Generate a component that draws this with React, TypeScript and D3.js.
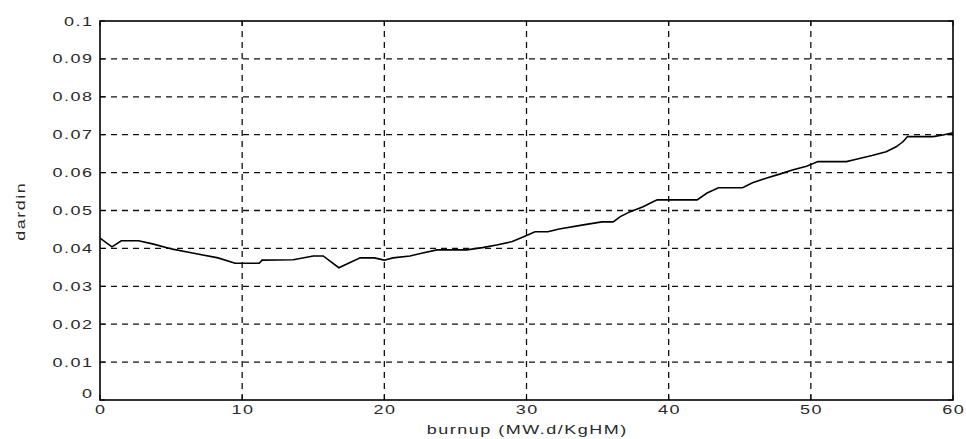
import React, { useEffect, useRef } from "react";
import * as d3 from "d3";

// burnup (MW.d/KgHM)
const burnup = [
  0, 0.84, 1.5, 2.7, 3.7, 5.1, 6.5, 8.3, 9.5, 11.2, 11.4, 13.6, 15.0, 15.7,
  16.8, 18.3, 19.3, 20.0, 20.6, 21.8, 22.7, 23.7, 25.8, 26.9, 27.9, 29.0,
  29.8, 30.6, 31.5, 32.3, 34.0, 35.3, 36.1, 36.6, 37.3, 38.2, 38.9, 39.2,
  42.0, 42.7, 43.5, 45.2, 45.9, 46.9, 47.8, 48.7, 49.7, 50.5, 52.5, 53.2,
  54.3, 55.3, 56.0, 56.5, 56.8, 58.6, 59.3, 60,
];
const dardin = [
  0.0427, 0.0404, 0.042, 0.042, 0.0412, 0.0398, 0.0388, 0.0375, 0.0361,
  0.0361, 0.0369, 0.037, 0.038, 0.038, 0.0349, 0.0375, 0.0375, 0.0369,
  0.0375, 0.038, 0.0388, 0.0396, 0.0396, 0.0402, 0.0409, 0.0418, 0.0431,
  0.0444, 0.0444, 0.0451, 0.0462, 0.047, 0.047, 0.0484, 0.0497, 0.051,
  0.0523, 0.0528, 0.0528, 0.0546, 0.056, 0.056, 0.0573, 0.0586, 0.0596,
  0.0607, 0.0617, 0.0629, 0.0629, 0.0635, 0.0645, 0.0655, 0.0668, 0.0682,
  0.0695, 0.0695, 0.0699, 0.0705,
];
const xTicks = [0, 10, 20, 30, 40, 50, 60];
const yTicks = [0, 0.01, 0.02, 0.03, 0.04, 0.05, 0.06, 0.07, 0.08, 0.09, 0.1];

export default function App() {
  const ref = useRef<SVGSVGElement>(null);

  useEffect(() => {
    const width = 966;
    const height = 439;
    const m = { left: 100, right: 13, top: 21, bottom: 39 };

    const svg = d3.select(ref.current);
    svg.selectAll("*").remove();

    const x = d3.scaleLinear().domain([0, 60]).range([m.left, width - m.right]);
    const y = d3.scaleLinear().domain([0, 0.1]).range([height - m.bottom, m.top]);

    const g = svg.append("g");
    const font = "'Liberation Sans', Arial, sans-serif";
    const sx = 1.5; // the original lettering is stretched horizontally
    const ls = 1;

    const label = (
      px: number,
      py: number,
      txt: string,
      anchor: string,
      rot = 0
    ) =>
      g
        .append("text")
        .attr(
          "transform",
          rot
            ? `translate(${px},${py}) rotate(${rot}) scale(${sx},1)`
            : `translate(${px},${py}) scale(${sx},1)`
        )
        .attr("text-anchor", anchor)
        .attr("font-family", font)
        .attr("font-size", 12)
        .attr("letter-spacing", ls)
        .attr("fill", "#2a2a2a")
        .text(txt);

    // dashed grid
    g.selectAll("line.vg")
      .data(xTicks.slice(1, -1))
      .enter()
      .append("line")
      .attr("x1", (d) => x(d))
      .attr("x2", (d) => x(d))
      .attr("y1", y(0))
      .attr("y2", y(0.1))
      .attr("stroke", "#111")
      .attr("stroke-width", 1.3)
      .attr("stroke-dasharray", "6,5");

    g.selectAll("line.hg")
      .data(yTicks.slice(1, -1))
      .enter()
      .append("line")
      .attr("x1", x(0))
      .attr("x2", x(60))
      .attr("y1", (d) => y(d))
      .attr("y2", (d) => y(d))
      .attr("stroke", "#111")
      .attr("stroke-width", 1.3)
      .attr("stroke-dasharray", "6,5");

    // inward ticks on all sides
    const tl = 5;
    xTicks.forEach((t) => {
      g.append("line").attr("x1", x(t)).attr("x2", x(t)).attr("y1", y(0)).attr("y2", y(0) - tl).attr("stroke", "#000");
      g.append("line").attr("x1", x(t)).attr("x2", x(t)).attr("y1", y(0.1)).attr("y2", y(0.1) + tl).attr("stroke", "#000");
    });
    yTicks.forEach((t) => {
      g.append("line").attr("x1", x(0)).attr("x2", x(0) + tl).attr("y1", y(t)).attr("y2", y(t)).attr("stroke", "#000");
      g.append("line").attr("x1", x(60)).attr("x2", x(60) - tl).attr("y1", y(t)).attr("y2", y(t)).attr("stroke", "#000");
    });

    // data line
    const pts = burnup.map((b, i) => [b, dardin[i]] as [number, number]);
    const line = d3
      .line<[number, number]>()
      .x((d) => x(d[0]))
      .y((d) => y(d[1]));
    g.append("path")
      .datum(pts)
      .attr("d", line)
      .attr("fill", "none")
      .attr("stroke", "#000")
      .attr("stroke-width", 1.6);

    // frame
    g.append("rect")
      .attr("x", x(0))
      .attr("y", y(0.1))
      .attr("width", x(60) - x(0))
      .attr("height", y(0) - y(0.1))
      .attr("fill", "none")
      .attr("stroke", "#000")
      .attr("stroke-width", 1.6);

    // tick labels
    yTicks.forEach((d) =>
      label(x(0) - 8 + ls * sx, y(d) + (d === 0 ? -2 : 4.5), String(d), "end")
    );
    xTicks.forEach((d) =>
      label(x(d) + (ls * sx) / 2, y(0) + 14, String(d), "middle")
    );

    // axis titles
    label((x(0) + x(60)) / 2 + (ls * sx) / 2, height - 5, "burnup (MW.d/KgHM)", "middle");
    label(25, (y(0) + y(0.1)) / 2 + (ls * sx) / 2, "dardin", "middle", -90);
  }, []);

  return (
    <svg
      ref={ref}
      width={966}
      height={439}
      style={{ position: "absolute", left: 0, top: 0, background: "#fff" }}
    />
  );
}
